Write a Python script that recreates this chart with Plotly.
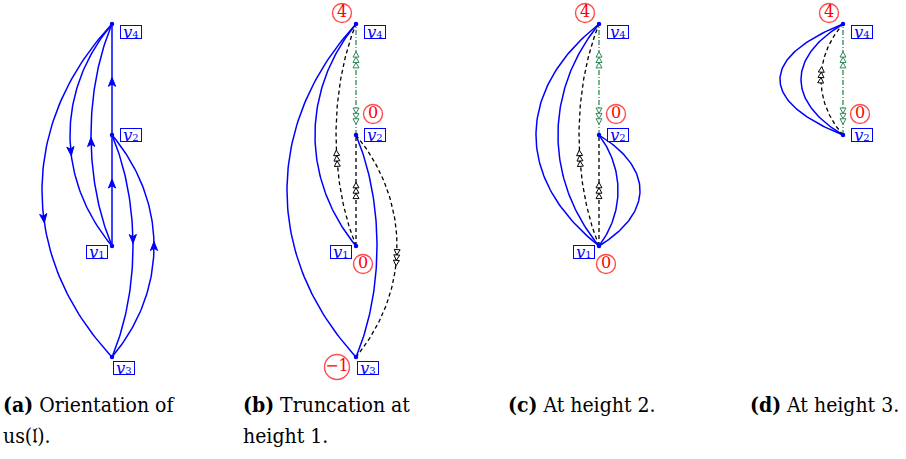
import math
import plotly.graph_objects as go

# ---------------- data ----------------
node_names = ["v1", "v2", "v3", "v4"]
node_levels = [1, 2, 0, 3]            # vertical order of the vertices
node_subs = ["1", "2", "3", "4"]

panel_ids = ["a", "b", "c", "d"]
panel_nodes = {
    "a": ["v1", "v2", "v3", "v4"],
    "b": ["v1", "v2", "v3", "v4"],
    "c": ["v1", "v2", "v4"],
    "d": ["v2", "v4"],
}
# heights written in red circles
panel_heights = {
    "a": {},
    "b": {"v4": "4", "v2": "0", "v1": "0", "v3": "\u22121"},
    "c": {"v4": "4", "v2": "0", "v1": "0"},
    "d": {"v4": "4", "v2": "0"},
}
# edges: (from, to, bow, style)
panel_edges = {
    "a": [("v1", "v2", 0, "arrow"), ("v2", "v4", 0, "arrow"),
          ("v4", "v1", -42, "arrow"), ("v1", "v4", -21, "arrow"),
          ("v4", "v3", -70, "arrow"), ("v2", "v3", 21, "arrow"),
          ("v3", "v2", 42, "arrow")],
    "b": [("v4", "v1", -41, "solid"), ("v4", "v3", -69, "solid"),
          ("v2", "v3", 21, "solid"), ("v1", "v4", -20, "dashed"),
          ("v1", "v2", 0, "dashed"), ("v2", "v3", 41, "dashed"),
          ("v2", "v4", 0, "green")],
    "c": [("v4", "v1", -63, "solid"), ("v4", "v1", -41, "solid"),
          ("v1", "v4", -20, "dashed"), ("v1", "v2", 0, "dashed"),
          ("v2", "v1", 19, "solid"), ("v2", "v1", 41, "solid"),
          ("v2", "v4", 0, "green")],
    "d": [("v4", "v2", -63, "solid"), ("v4", "v2", -42, "solid"),
          ("v2", "v4", -22, "dashed"), ("v2", "v4", 0, "green")],
}
# arrow marks: (edge index, fraction along edge, reversed)
panel_marks = {
    "a": [(0, 0.56, False), (1, 0.48, False), (2, 0.57, False), (3, 0.47, False),
          (4, 0.58, False), (5, 0.47, False), (6, 0.50, False)],
    "b": [(3, 0.40, False), (4, 0.50, False), (5, 0.55, False),
          (6, 0.67, False), (6, 0.18, True)],
    "c": [(2, 0.40, False), (3, 0.50, False), (6, 0.67, False), (6, 0.18, True)],
    "d": [(2, 0.54, False), (3, 0.67, False), (3, 0.18, True)],
}
captions = {
    "a": ["<b>(a)</b> Orientation of", "us(\U0001D529)."],
    "b": ["<b>(b)</b> Truncation at", "height 1."],
    "c": ["<b>(c)</b> At height 2."],
    "d": ["<b>(d)</b> At height 3."],
}

# ---------------- layout constants ----------------
W, H = 906, 459
panel_x = {"a": 112, "b": 356, "c": 599, "d": 843}
caption_x = {"a": 1, "b": 241, "c": 506, "d": 748}
caption_y = [404, 436]
level_px = 111
base_y = 357
label_off = {"v1": (-15, 6), "v2": (19, 0), "v3": (12, 11), "v4": (19, 8)}
height_off = {"v1": (7, 18), "v2": (17, -21), "v3": (-19, 10), "v4": (-14, -11)}
BLUE = "#0000ff"
RED = "#ff0000"
GREEN = "#2e8b57"
SERIF = "DejaVu Serif"
CAP_FONT = "DejaVu Serif Condensed"


def node_pos(p, n):
    i = node_names.index(n)
    return panel_x[p], base_y - node_levels[i] * level_px


def bezier(p0, p3, bow):
    (x0, y0), (x3, y3) = p0, p3
    dx, dy = x3 - x0, y3 - y0
    L = math.hypot(dx, dy)
    ux, uy = dx / L, dy / L
    nx, ny = uy, -ux
    sgn = 1 if nx > 0 else -1
    k = bow / 0.75 * sgn
    a = 0.3 * L
    c1 = (x0 + ux * a + nx * k, y0 + uy * a + ny * k)
    c2 = (x3 - ux * a + nx * k, y3 - uy * a + ny * k)
    return (x0, y0), c1, c2, (x3, y3)


def bz_point(P, t):
    (a, b, c, d) = P
    mt = 1 - t
    x = mt**3 * a[0] + 3 * mt**2 * t * b[0] + 3 * mt * t**2 * c[0] + t**3 * d[0]
    y = mt**3 * a[1] + 3 * mt**2 * t * b[1] + 3 * mt * t**2 * c[1] + t**3 * d[1]
    return x, y


def bz_tan(P, t):
    (a, b, c, d) = P
    mt = 1 - t
    x = 3 * mt**2 * (b[0] - a[0]) + 6 * mt * t * (c[0] - b[0]) + 3 * t**2 * (d[0] - c[0])
    y = 3 * mt**2 * (b[1] - a[1]) + 6 * mt * t * (c[1] - b[1]) + 3 * t**2 * (d[1] - c[1])
    n = math.hypot(x, y)
    return x / n, y / n


fig = go.Figure()

style_line = {
    "arrow": dict(color=BLUE, width=1.5),
    "solid": dict(color=BLUE, width=1.5),
    "dashed": dict(color="black", width=1.3, dash="4px,3px"),
    "green": dict(color=GREEN, width=1.3, dash="5px,2px,1px,2px"),
}

for p in panel_ids:
    curves = []
    for (u, v, bow, st) in panel_edges[p]:
        P = bezier(node_pos(p, u), node_pos(p, v), bow)
        curves.append(P)
        N = 80
        xs, ys = [], []
        for i in range(N + 1):
            x, y = bz_point(P, i / N)
            xs.append(x)
            ys.append(y)
        fig.add_trace(go.Scatter(x=xs, y=ys, mode="lines", line=style_line[st],
                                 hoverinfo="skip", showlegend=False))
    # arrow marks
    for (ei, t, rev) in panel_marks[p]:
        P = curves[ei]
        st = panel_edges[p][ei][3]
        cx, cy = bz_point(P, t)
        tx, ty = bz_tan(P, t)
        if rev:
            tx, ty = -tx, -ty
        nx, ny = -ty, tx
        if st == "arrow":
            ln, hw = 9, 3.6
            tipx, tipy = cx + tx * ln / 2, cy + ty * ln / 2
            bx, by = cx - tx * ln / 2, cy - ty * ln / 2
            mx, my = cx - tx * ln * 0.25, cy - ty * ln * 0.25
            xs = [tipx, bx + nx * hw, mx, bx - nx * hw, tipx]
            ys = [tipy, by + ny * hw, my, by - ny * hw, tipy]
            fig.add_trace(go.Scatter(x=xs, y=ys, mode="lines", fill="toself",
                                     fillcolor=BLUE, line=dict(color=BLUE, width=1),
                                     hoverinfo="skip", showlegend=False))
        else:
            col = GREEN if st == "green" else "black"
            ln, hw = 5.4, 3.0
            for j in (-1, 0, 1):
                ox, oy = cx + tx * ln * j, cy + ty * ln * j
                tipx, tipy = ox + tx * ln / 2, oy + ty * ln / 2
                bx, by = ox - tx * ln / 2, oy - ty * ln / 2
                xs = [tipx, bx + nx * hw, bx - nx * hw, tipx]
                ys = [tipy, by + ny * hw, by - ny * hw, tipy]
                fig.add_trace(go.Scatter(x=xs, y=ys, mode="lines", fill="toself",
                                         fillcolor="white", line=dict(color=col, width=1),
                                         hoverinfo="skip", showlegend=False))
    # nodes
    nx_ = [node_pos(p, n)[0] for n in panel_nodes[p]]
    ny_ = [node_pos(p, n)[1] for n in panel_nodes[p]]
    fig.add_trace(go.Scatter(x=nx_, y=ny_, mode="markers",
                             marker=dict(color=BLUE, size=4.5),
                             hoverinfo="skip", showlegend=False))
    # node labels
    for n in panel_nodes[p]:
        x, y = node_pos(p, n)
        ox, oy = label_off[n]
        sub = node_subs[node_names.index(n)]
        fig.add_annotation(x=x + ox, y=y + oy, xref="x", yref="y",
                           text=f"<i>v</i><span style='font-size:10px'>{sub}</span>",
                           showarrow=False,
                           font=dict(family=SERIF, size=16, color=BLUE),
                           bordercolor=BLUE, borderwidth=1, borderpad=0,
                           width=20, height=12,
                           bgcolor="white", xanchor="center", yanchor="middle")
    # heights
    hs = panel_heights[p]
    if hs:
        hx, hy, ht, hsz = [], [], [], []
        for n, val in hs.items():
            x, y = node_pos(p, n)
            ox, oy = height_off[n]
            hx.append(x + ox)
            hy.append(y + oy)
            ht.append(val)
            hsz.append(19 if len(val) == 1 else 25)
        fig.add_trace(go.Scatter(x=hx, y=hy, mode="markers+text", text=ht,
                                 textposition="middle center",
                                 textfont=dict(family=SERIF, size=16, color=RED),
                                 marker=dict(symbol="circle-open", size=hsz,
                                             line=dict(color=RED, width=1.4), color=RED),
                                 hoverinfo="skip", showlegend=False))
    # caption
    for li, line in enumerate(captions[p]):
        fig.add_annotation(x=caption_x[p], y=caption_y[li], xref="x", yref="y",
                           text=line, showarrow=False, align="left",
                           xanchor="left", yanchor="middle",
                           font=dict(family=CAP_FONT, size=21, color="black"))

fig.update_layout(
    width=W, height=H, margin=dict(l=0, r=0, t=0, b=0),
    paper_bgcolor="white", plot_bgcolor="white",
    font=dict(family=SERIF),
    xaxis=dict(range=[0, W], visible=False, fixedrange=True),
    yaxis=dict(range=[H, 0], visible=False, fixedrange=True),
    showlegend=False,
)
fig.write_html("out.html", config={"displayModeBar": False},
               post_script="document.body.style.margin='0px';")
